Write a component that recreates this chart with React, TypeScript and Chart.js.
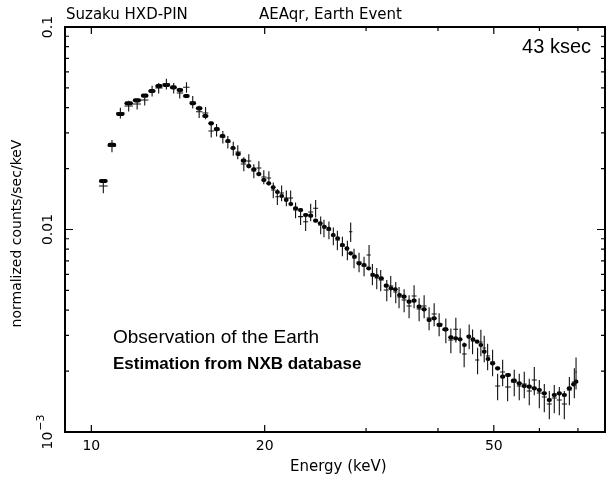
import React, { useEffect, useRef } from "react";
import { Chart, registerables } from "chart.js";

Chart.register(...registerables);

// Energy bin centres (keV)
const energy = [
  10.49, 10.86, 11.23, 11.61, 12.01, 12.38, 12.75, 13.09, 13.5, 13.9,
  14.24, 14.63, 15.0, 15.39, 15.79, 16.15, 16.5, 16.92, 17.26, 17.64,
  17.96, 18.4, 18.77, 19.15, 19.54, 19.93, 20.34, 20.7, 21.04, 21.4,
  21.81, 22.19, 22.63, 23.09, 23.56, 24.04, 24.52, 25.02, 25.35, 25.86,
  26.32, 26.75, 27.29, 27.84, 28.21, 28.59, 29.17, 29.76, 30.36, 30.77,
  31.31, 31.81, 32.59, 33.11, 33.78, 34.23, 34.93, 35.63, 36.35, 37.09,
  37.84, 38.6, 39.39, 40.18, 41.27, 42.11, 42.96, 43.71, 44.41, 45.31,
  45.93, 46.86, 47.48, 48.12, 48.78, 49.76, 50.77, 51.8, 52.84, 54.26,
  55.36, 56.48, 57.62, 58.79, 59.98, 61.19, 62.43, 63.68, 64.98, 66.29,
  67.64, 69.0, 69.47,
];

// Estimation from NXB database (filled marks)
const nxbFlux = [
  0.01736, 0.02615, 0.03719, 0.04201, 0.04346, 0.0458, 0.04831, 0.05114, 0.05172, 0.05038,
  0.04886, 0.04564, 0.04201, 0.03968, 0.03635, 0.03345, 0.03134, 0.02895, 0.02735, 0.02526,
  0.0236, 0.02187, 0.02058, 0.01983, 0.01879, 0.01756, 0.01691, 0.01616, 0.01532, 0.01464,
  0.01399, 0.01336, 0.01273, 0.01248, 0.01179, 0.0117, 0.01105, 0.01073, 0.01032, 0.01006,
  0.009394, 0.009048, 0.008386, 0.008078, 0.00763, 0.007341, 0.006808, 0.006678, 0.006432, 0.005963,
  0.005895, 0.005743, 0.005279, 0.005125, 0.005067, 0.004748, 0.004657, 0.0044, 0.00445, 0.004157,
  0.004036, 0.003573, 0.003643, 0.003377, 0.003215, 0.002935, 0.002902, 0.002869, 0.002689, 0.002955,
  0.002869, 0.002792, 0.002689, 0.002492, 0.002293, 0.002184, 0.002063, 0.001876, 0.001912, 0.001792,
  0.00174, 0.001687, 0.001674, 0.001644, 0.001612, 0.001553, 0.001439, 0.001523, 0.001553, 0.001523,
  0.001644, 0.00172, 0.001772,
];

// Observation of the Earth (crosses)
const obsFlux = [
  0.0164, 0.02585, 0.03762, 0.04073, 0.04167, 0.04361, 0.04831, 0.04997, 0.05232, 0.04997,
  0.04722, 0.05038, 0.04262, 0.03817, 0.03762, 0.03064, 0.03099, 0.02862, 0.02704, 0.02512,
  0.02414, 0.02106, 0.02179, 0.01945, 0.02012, 0.01816, 0.01796, 0.01567, 0.01452, 0.01514,
  0.01431, 0.01431, 0.01248, 0.01157, 0.01093, 0.0122, 0.01273, 0.01053, 0.01017, 0.009943,
  0.009288, 0.008875, 0.008288, 0.007922, 0.009753, 0.007233, 0.006911, 0.006604, 0.007484, 0.006031,
  0.00576, 0.005631, 0.005027, 0.005261, 0.004914, 0.004642, 0.004486, 0.00419, 0.004695, 0.00405,
  0.00419, 0.003656, 0.003825, 0.003415, 0.003191, 0.002846, 0.003215, 0.002846, 0.002427, 0.002979,
  0.002814, 0.002267, 0.002783, 0.0026, 0.002373, 0.002217, 0.001687, 0.001978, 0.001668, 0.001766,
  0.001687, 0.001726, 0.001594, 0.001806, 0.001558, 0.001489, 0.001375, 0.001472, 0.001439, 0.001375,
  0.001612, 0.001766, 0.001978,
];

// Relative 1-sigma error of the observation
const obsRelErr = [
  0.08, 0.07, 0.06, 0.06, 0.06, 0.06, 0.06, 0.06, 0.06, 0.06, 0.06, 0.06,
  0.07, 0.07, 0.07, 0.07, 0.07, 0.07, 0.07, 0.08, 0.08, 0.08, 0.08, 0.08, 0.08, 0.08, 0.08, 0.09, 0.09, 0.09,
  0.09, 0.09, 0.09, 0.09, 0.1, 0.1, 0.1, 0.1, 0.1, 0.1,
  0.1, 0.11, 0.11, 0.11, 0.11, 0.11, 0.11, 0.11, 0.12, 0.12, 0.12, 0.12, 0.12, 0.12, 0.12, 0.12, 0.13, 0.13, 0.13, 0.13,
  0.13, 0.13, 0.13, 0.13, 0.14, 0.14, 0.14, 0.14, 0.14, 0.14,
  0.14, 0.15, 0.15, 0.15, 0.15, 0.15, 0.15, 0.15, 0.15, 0.15, 0.15, 0.15, 0.15,
  0.16, 0.16, 0.16, 0.16, 0.16, 0.16, 0.16, 0.16, 0.17, 0.18,
];

const xMajorTicks = [10, 20, 50];
const xTickLabels = ["10", "20", "50"];
const xMinorTicks = [30, 40, 60, 70];
const yMajorTicks = [0.1, 0.01, 0.001];
const yTickLabels = ["0.1", "0.01", "10|−3"];
const yMinorTicks = [
  0.002, 0.003, 0.004, 0.005, 0.006, 0.007, 0.008, 0.009,
  0.02, 0.03, 0.04, 0.05, 0.06, 0.07, 0.08, 0.09,
];

const headerLeft = "Suzaku HXD-PIN";
const headerRight = "AEAqr, Earth Event";
const xTitle = "Energy (keV)";
const yTitle = "normalized counts/sec/keV";
const exposureLabel = "43 ksec";
const legendObs = "Observation of the Earth";
const legendNxb = "Estimation from NXB database";

const AXIS_FONT = "DejaVu Sans";
const TEXT_FONT = "Liberation Sans";

export default function App() {
  const ref = useRef<HTMLCanvasElement | null>(null);

  useEffect(() => {
    if (!ref.current) return;
    const n = energy.length;
    const binLo: number[] = [];
    const binHi: number[] = [];
    for (let i = 0; i < n; i++) {
      const prev = i > 0 ? energy[i - 1] : energy[i] * energy[i] / energy[i + 1];
      const next = i < n - 1 ? energy[i + 1] : energy[i] * energy[i] / energy[i - 1];
      binLo.push(Math.sqrt(prev * energy[i]));
      binHi.push(Math.sqrt(next * energy[i]));
    }

    const pgplot = {
      id: "pgplot",
      afterDatasetsDraw(chart: any) {
        const ctx = chart.ctx as CanvasRenderingContext2D;
        const xs = chart.scales.x;
        const ys = chart.scales.y;
        ctx.save();
        // NXB estimation: thick bin-wide marks
        ctx.strokeStyle = "#000";
        ctx.lineCap = "round";
        ctx.lineWidth = 4.2;
        for (let i = 0; i < n; i++) {
          const x0 = xs.getPixelForValue(binLo[i]);
          const x1 = xs.getPixelForValue(binHi[i]);
          const y = ys.getPixelForValue(nxbFlux[i]);
          const shrink = Math.min(2, (x1 - x0) / 2 - 0.3);
          ctx.beginPath();
          ctx.moveTo(x0 + shrink, y);
          ctx.lineTo(x1 - shrink, y);
          ctx.stroke();
        }
        // Observation: crosses with error bars
        ctx.lineCap = "butt";
        ctx.lineWidth = 1.1;
        ctx.strokeStyle = "#111";
        for (let i = 0; i < n; i++) {
          const x0 = xs.getPixelForValue(binLo[i]);
          const x1 = xs.getPixelForValue(binHi[i]);
          const xc = xs.getPixelForValue(energy[i]);
          const v = obsFlux[i];
          const y = ys.getPixelForValue(v);
          const yLo = ys.getPixelForValue(v * (1 - obsRelErr[i]));
          const yHi = ys.getPixelForValue(v * (1 + obsRelErr[i]));
          ctx.beginPath();
          ctx.moveTo(x0, y);
          ctx.lineTo(x1, y);
          ctx.moveTo(xc, yLo);
          ctx.lineTo(xc, yHi);
          ctx.stroke();
        }
        ctx.restore();
      },
      afterDraw(chart: any) {
        const ctx = chart.ctx as CanvasRenderingContext2D;
        const a = chart.chartArea;
        const xs = chart.scales.x;
        const ys = chart.scales.y;
        ctx.save();
        ctx.strokeStyle = "#000";
        ctx.fillStyle = "#000";
        // frame
        ctx.lineWidth = 2;
        ctx.strokeRect(a.left, a.top, a.right - a.left, a.bottom - a.top);
        // ticks (all four sides, inward)
        ctx.lineWidth = 1.2;
        ctx.beginPath();
        for (const t of xMajorTicks) {
          const x = xs.getPixelForValue(t);
          ctx.moveTo(x, a.bottom); ctx.lineTo(x, a.bottom - 7);
          ctx.moveTo(x, a.top); ctx.lineTo(x, a.top + 7);
        }
        for (const t of xMinorTicks) {
          const x = xs.getPixelForValue(t);
          ctx.moveTo(x, a.bottom); ctx.lineTo(x, a.bottom - 4);
          ctx.moveTo(x, a.top); ctx.lineTo(x, a.top + 4);
        }
        for (const t of yMajorTicks) {
          const y = ys.getPixelForValue(t);
          ctx.moveTo(a.left, y); ctx.lineTo(a.left + 8, y);
          ctx.moveTo(a.right, y); ctx.lineTo(a.right - 8, y);
        }
        for (const t of yMinorTicks) {
          const y = ys.getPixelForValue(t);
          ctx.moveTo(a.left, y); ctx.lineTo(a.left + 4, y);
          ctx.moveTo(a.right, y); ctx.lineTo(a.right - 4, y);
        }
        ctx.stroke();

        // x tick labels
        ctx.font = `14px "${AXIS_FONT}"`;
        ctx.textAlign = "center";
        ctx.textBaseline = "middle";
        xMajorTicks.forEach((t, i) => {
          ctx.fillText(xTickLabels[i], xs.getPixelForValue(t), a.bottom + 14);
        });
        // x title
        ctx.font = `15px "${AXIS_FONT}"`;
        ctx.fillText(xTitle, (xs.getPixelForValue(20) + xs.getPixelForValue(50)) / 2 - 41, a.bottom + 35);

        // y tick labels (rotated)
        yMajorTicks.forEach((t, i) => {
          const y = ys.getPixelForValue(t);
          const lab = yTickLabels[i];
          ctx.save();
          ctx.translate(a.left - 17, y);
          ctx.rotate(-Math.PI / 2);
          if (lab.includes("|")) {
            const [base, exp] = lab.split("|");
            ctx.font = `14px "${AXIS_FONT}"`;
            const wb = ctx.measureText(base).width;
            ctx.font = `11px "${AXIS_FONT}"`;
            const we = ctx.measureText(exp).width;
            const total = wb + we + 1;
            ctx.textAlign = "left";
            ctx.font = `14px "${AXIS_FONT}"`;
            ctx.fillText(base, -total / 2, 0);
            ctx.font = `11px "${AXIS_FONT}"`;
            ctx.fillText(exp, -total / 2 + wb + 1, -7);
          } else {
            ctx.textAlign = "center";
            ctx.font = `14px "${AXIS_FONT}"`;
            ctx.fillText(lab, 0, 0);
          }
          ctx.restore();
        });

        // y title
        ctx.save();
        ctx.translate(17, (a.top + a.bottom) / 2 + 4);
        ctx.rotate(-Math.PI / 2);
        ctx.textAlign = "center";
        ctx.font = `14px "${AXIS_FONT}"`;
        ctx.fillText(yTitle, 0, 0);
        ctx.restore();

        // header
        ctx.textAlign = "left";
        ctx.textBaseline = "alphabetic";
        ctx.font = `15px "${AXIS_FONT}"`;
        ctx.fillText(headerLeft, a.left + 1, a.top - 8);
        ctx.fillText(headerRight, a.left + 194, a.top - 8);

        // exposure and legend text
        ctx.font = `20px "${TEXT_FONT}"`;
        ctx.textAlign = "right";
        ctx.textBaseline = "middle";
        ctx.fillText(exposureLabel, a.right - 14, a.top + 20);
        ctx.textAlign = "left";
        ctx.font = `19px "${TEXT_FONT}"`;
        ctx.fillText(legendObs, 113, 338);
        ctx.font = `bold 17px "${TEXT_FONT}"`;
        ctx.fillText(legendNxb, 113, 364);
        ctx.restore();
      },
    };

    const chart = new Chart(ref.current, {
      type: "scatter",
      data: {
        datasets: [
          {
            label: legendNxb,
            data: energy.map((e, i) => ({ x: e, y: nxbFlux[i] })),
            pointRadius: 0,
            showLine: false,
          },
          {
            label: legendObs,
            data: energy.map((e, i) => ({ x: e, y: obsFlux[i] })),
            pointRadius: 0,
            showLine: false,
          },
        ],
      },
      options: {
        animation: false,
        responsive: false,
        devicePixelRatio: 1,
        layout: { padding: { left: 65, right: 3, top: 27, bottom: 48 } },
        scales: {
          x: { type: "logarithmic", min: 9, max: 78, display: false },
          y: { type: "logarithmic", min: 0.001, max: 0.1, display: false },
        },
        plugins: { legend: { display: false }, tooltip: { enabled: false } },
      },
      plugins: [pgplot],
    });
    return () => chart.destroy();
  }, []);

  return (
    <div style={{ position: "absolute", left: 0, top: 0, width: 608, height: 480, background: "#fff" }}>
      <canvas ref={ref} width={608} height={480} style={{ display: "block", width: 608, height: 480 }} />
    </div>
  );
}
